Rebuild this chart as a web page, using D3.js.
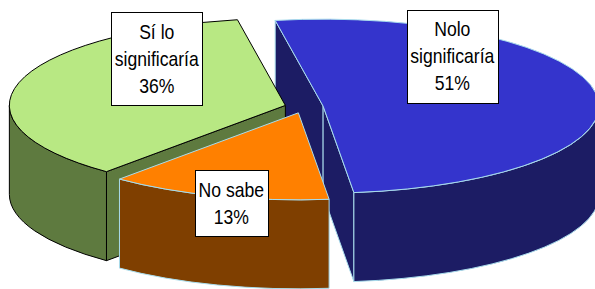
<!DOCTYPE html>
<html lang="es">
<head>
<meta charset="utf-8">
<title>3D pie</title>
<script src="https://cdn.jsdelivr.net/npm/d3@7"></script>
<style>
  body { margin: 0; background: #fff; }
  svg { display: block; }
  .label text { font-family: "Liberation Sans", Arial, sans-serif; font-size: 20px; fill: #000; }
</style>
</head>
<body>
<div id="chart"></div>
<script>
// data
var categories = ["Sí lo significaría", "Nolo significaría", "No sabe"];
var values = [36, 51, 13];

// styles
var topColors  = ["#b8e883", "#3434cc", "#ff8000"];
var sideColors = ["#5e7a3f", "#1c1c64", "#7f3f00"];
var edgeColors = ["#000000", "#a8dcec", "#a8dcec"];

var w = 595, h = 289;
var cx = 304, cy = 107, rx = 276, ry = 87, depth = 89, explode = 0.07;
var sx = 0.88; // text squeeze
// label box centre, relative to slice apex, in radius units
var labelAnchor = [{u: -0.466, v: -0.534}, {u: 0.468, v: -0.571}, {u: -0.243, v: 1.04}];

var svg = d3.select("#chart").append("svg")
  .attr("width", w).attr("height", h);

var pie = d3.pie().sort(null)
  .startAngle(220.4 * Math.PI / 180)
  .endAngle(220.4 * Math.PI / 180 + 2 * Math.PI);

var arcs = pie(values);

function pt(c, a, k, dz) {
  return [c[0] + k * rx * Math.sin(a), c[1] - k * ry * Math.cos(a) + (dz || 0)];
}
function f(p) { return p[0].toFixed(2) + "," + p[1].toFixed(2); }

arcs.forEach(function(d, i) {
  var mid = (d.startAngle + d.endAngle) / 2;
  d.c = [cx + explode * rx * Math.sin(mid), cy - explode * ry * Math.cos(mid)];
  d.i = i;
});

var faces = [];
arcs.forEach(function(d) {
  var c = d.c, a0 = d.startAngle, a1 = d.endAngle;
  // radial faces
  [[a0, Math.sin(a0) < 0], [a1, Math.sin(a1) > 0]].forEach(function(r) {
    if (!r[1]) return;
    var a = r[0];
    var p1 = pt(c, a, 0), p2 = pt(c, a, 1), p3 = pt(c, a, 1, depth), p4 = pt(c, a, 0, depth);
    faces.push({i: d.i, key: c[1] - 0.5 * ry * Math.cos(a),
      d: "M" + f(p1) + "L" + f(p2) + "L" + f(p3) + "L" + f(p4) + "Z"});
  });
  // outer wall, front part only
  for (var k = -1; k < 4; k++) {
    var s = Math.max(a0, Math.PI / 2 + 2 * Math.PI * k);
    var e = Math.min(a1, 3 * Math.PI / 2 + 2 * Math.PI * k);
    if (e - s < 1e-6) continue;
    var large = (e - s) > Math.PI ? 1 : 0;
    var sum = 0;
    for (var j = 0; j <= 10; j++) sum += -Math.cos(s + (e - s) * j / 10);
    faces.push({i: d.i, key: c[1] + ry * sum / 11,
      d: "M" + f(pt(c, s, 1)) +
         "A" + rx + "," + ry + " 0 " + large + " 1 " + f(pt(c, e, 1)) +
         "L" + f(pt(c, e, 1, depth)) +
         "A" + rx + "," + ry + " 0 " + large + " 0 " + f(pt(c, s, 1, depth)) + "Z"});
  }
});

faces.sort(function(a, b) { return a.key - b.key; });

svg.append("g").selectAll("path").data(faces).enter().append("path")
  .attr("d", function(d) { return d.d; })
  .attr("fill", function(d) { return sideColors[d.i]; })
  .attr("stroke", function(d) { return edgeColors[d.i]; })
  .attr("stroke-width", 1)
  .attr("stroke-linejoin", "round");

svg.append("g").selectAll("path").data(arcs).enter().append("path")
  .attr("d", function(d) {
    var large = (d.endAngle - d.startAngle) > Math.PI ? 1 : 0;
    return "M" + f(d.c) + "L" + f(pt(d.c, d.startAngle, 1)) +
      "A" + rx + "," + ry + " 0 " + large + " 1 " + f(pt(d.c, d.endAngle, 1)) + "Z";
  })
  .attr("fill", function(d) { return topColors[d.i]; })
  .attr("stroke", function(d) { return edgeColors[d.i]; })
  .attr("stroke-width", 1)
  .attr("stroke-linejoin", "round");

// labels
var measure = svg.append("g").attr("class", "label").append("text");
function tw(s) { measure.text(s); return measure.node().getComputedTextLength() * sx; }

function wrap(s, maxW) {
  var words = s.split(" "), lines = [], cur = "";
  words.forEach(function(wd) {
    var t = cur ? cur + " " + wd : wd;
    if (cur && tw(t) > maxW) { lines.push(cur); cur = wd; } else cur = t;
  });
  if (cur) lines.push(cur);
  return lines;
}

var lineH = 27;
var labels = svg.append("g").attr("class", "label");
arcs.forEach(function(d) {
  var lines = wrap(categories[d.i], 90).concat([values[d.i] + "%"]);
  var bw = Math.round(d3.max(lines, tw) + 7);
  var bh = lines.length * lineH + 12;
  var bx = d.c[0] + labelAnchor[d.i].u * rx;
  var by = d.c[1] + labelAnchor[d.i].v * ry;
  labels.append("rect")
    .attr("x", Math.round(bx - bw / 2) + 0.5)
    .attr("y", Math.round(by - bh / 2) + 0.5)
    .attr("width", bw).attr("height", bh)
    .attr("fill", "#fff").attr("stroke", "#000").attr("stroke-width", 1);
  lines.forEach(function(l, j) {
    var ly = by + (j - (lines.length - 1) / 2) * lineH + 7;
    labels.append("text")
      .attr("text-anchor", "middle")
      .attr("transform", "translate(" + bx + "," + ly + ") scale(" + sx + ",1)")
      .text(l);
  });
});
measure.remove();
</script>
</body>
</html>
